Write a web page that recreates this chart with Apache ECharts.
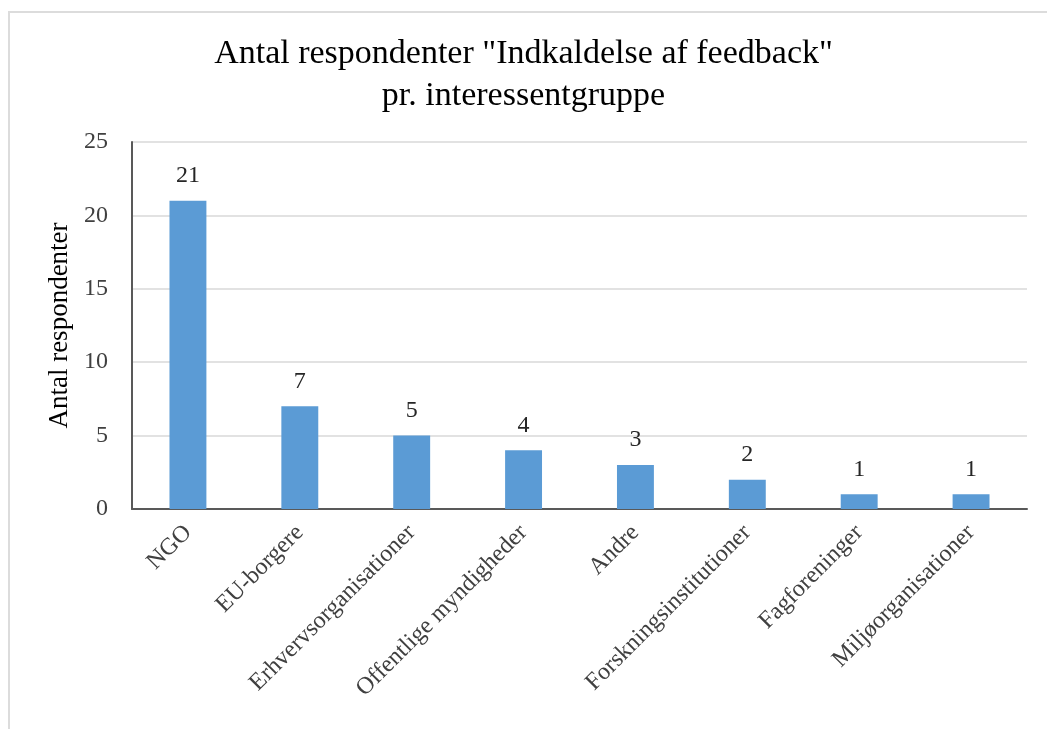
<!DOCTYPE html>
<html>
<head>
<meta charset="utf-8">
<script src="https://cdn.jsdelivr.net/npm/echarts@6/dist/echarts.min.js"></script>
<style>
  html, body { margin: 0; padding: 0; background: #fff; }
  #chart { width: 1047px; height: 729px; }
</style>
</head>
<body>
<div id="chart"></div>
<script>
// interessentgrupper og antal respondenter
const categories = ['NGO', 'EU-borgere', 'Erhvervsorganisationer', 'Offentlige myndigheder', 'Andre', 'Forskningsinstitutioner', 'Fagforeninger', 'Miljøorganisationer']
const values = [21, 7, 5, 4, 3, 2, 1, 1]
const yTicks = [0, 5, 10, 15, 20, 25]

const serif = 'Liberation Serif'

const myChart = echarts.init(document.getElementById('chart'), null, { renderer: 'canvas' })

const option = {
  backgroundColor: '#fff',
  animation: false,
  // ramme om diagrammet
  graphic: [
    {
      type: 'rect',
      shape: { x: 9, y: 12, width: 1200, height: 900 },
      style: { fill: 'none', stroke: '#dcdcdc', lineWidth: 2 },
      silent: true
    }
  ],
  title: {
    text: 'Antal respondenter "Indkaldelse af feedback"\npr. interessentgruppe',
    left: 'center',
    top: 28,
    textStyle: {
      fontFamily: serif,
      fontSize: 34,
      fontWeight: 'normal',
      color: '#000',
      lineHeight: 42
    }
  },
  grid: {
    left: 132,
    right: 20,
    top: 142,
    bottom: 220
  },
  xAxis: {
    type: 'category',
    data: categories,
    axisLine: { lineStyle: { color: '#595959', width: 2 } },
    axisTick: { show: false },
    axisLabel: {
      rotate: 45,
      margin: 20,
      interval: 0,
      fontFamily: serif,
      fontSize: 24,
      color: '#404040'
    }
  },
  yAxis: {
    type: 'value',
    min: yTicks[0],
    max: yTicks[yTicks.length - 1],
    interval: 5,
    name: 'Antal respondenter',
    nameLocation: 'middle',
    nameGap: 57,
    nameTextStyle: { fontFamily: serif, fontSize: 27, color: '#000' },
    axisLine: { show: true, lineStyle: { color: '#595959', width: 2 } },
    axisTick: { show: false },
    axisLabel: { margin: 24, fontFamily: serif, fontSize: 24, color: '#404040' },
    splitLine: { lineStyle: { color: '#d9d9d9', width: 1.5 } }
  },
  series: [
    {
      type: 'bar',
      data: values,
      barWidth: '33%',
      itemStyle: { color: '#5b9bd5' },
      label: {
        show: true,
        position: 'top',
        distance: 13,
        fontFamily: serif,
        fontSize: 24,
        color: '#262626'
      }
    }
  ]
}

option && myChart.setOption(option)
</script>
</body>
</html>
